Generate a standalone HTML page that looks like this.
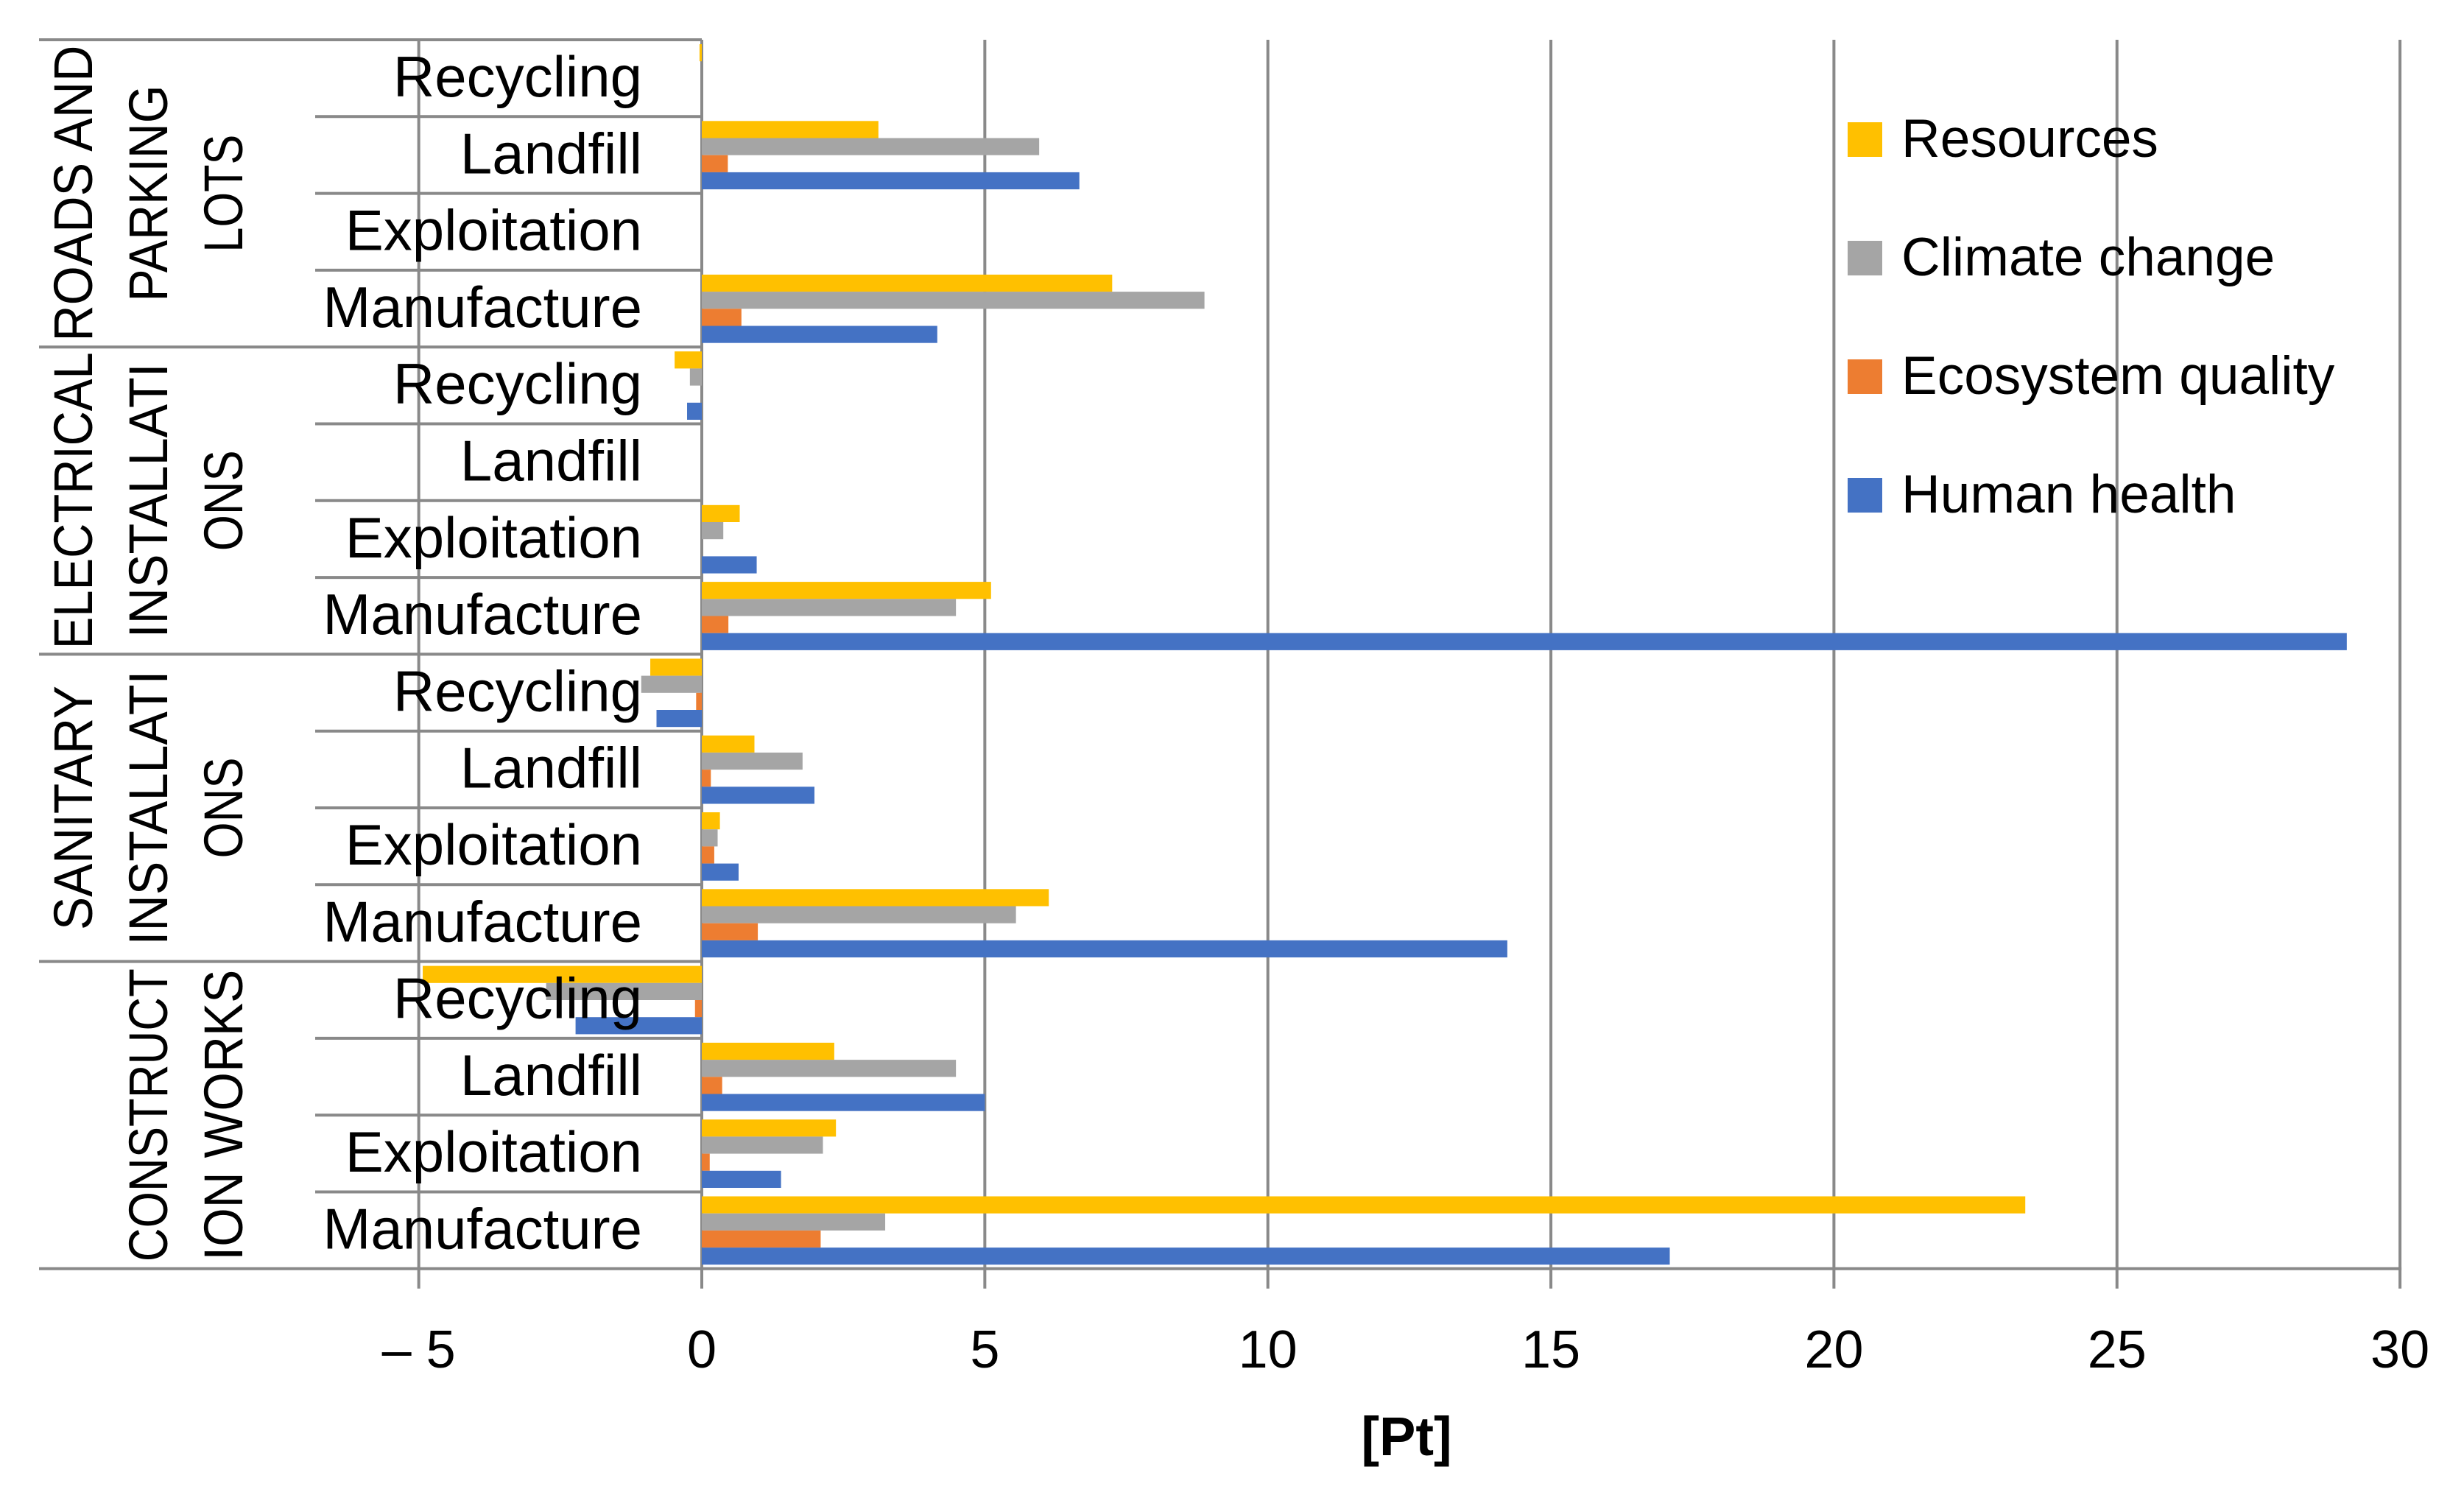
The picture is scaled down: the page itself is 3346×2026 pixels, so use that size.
<!DOCTYPE html>
<html><head><meta charset="utf-8"><style>
html,body{margin:0;padding:0;background:#fff;}
svg{display:block;font-family:"Liberation Sans",sans-serif;}
</style></head><body>
<svg id="chart" width="3346" height="2026" viewBox="0 0 3346 2026" xmlns="http://www.w3.org/2000/svg">
<rect width="3346" height="2026" fill="#fff"/>
<g id="grid"></g><g id="bars"></g><g id="frame"></g><g id="labels"></g>
<text x="1910" y="1976" text-anchor="middle" font-size="74" font-weight="bold">[Pt]</text>
<g id="legend"></g>
</svg>
<script>
const groups = ["ROADS AND PARKING LOTS","ELECTRICAL INSTALLATIONS","SANITARY INSTALLATIONS","CONSTRUCTION WORKS"];
const groupLines = [["ROADS AND","PARKING","LOTS"],["ELECTRICAL","INSTALLATI","ONS"],["SANITARY","INSTALLATI","ONS"],["","CONSTRUCT","ION WORKS"]];
const phases = ["Recycling","Landfill","Exploitation","Manufacture"];
const seriesNames = ["Resources","Climate change","Ecosystem quality","Human health"];
const seriesColors = ["#FFC000","#A5A5A5","#ED7D31","#4472C4"];
// values per group, per phase (rows top-to-bottom)
const resources = [[-0.04,3.12,0,7.25],[-0.48,0,0.67,5.11],[-0.91,0.93,0.32,6.13],[-4.93,2.34,2.37,23.38]];
const climate = [[0,5.96,0,8.88],[-0.21,0,0.38,4.49],[-1.07,1.78,0.28,5.55],[-2.75,4.49,2.14,3.24]];
const ecosystem = [[0,0.46,0,0.70],[0,0,0,0.47],[-0.10,0.16,0.22,0.99],[-0.12,0.36,0.14,2.10]];
const human = [[0,6.67,0,4.16],[-0.26,0,0.97,29.06],[-0.80,1.99,0.65,14.23],[-2.23,5.0,1.40,17.1]];
const ticks = [-5,0,5,10,15,20,25,30];
const tickLabels = ["\u2013 5","0","5","10","15","20","25","30"];

const NS="http://www.w3.org/2000/svg";
const X0=953, PXU=76.87, TOP=54, ROWH=104.3, BOTTOM=TOP+16*ROWH;
const x = v => X0 + v*PXU;
const rowTop = i => TOP + i*ROWH;
function mk(tag, attrs, parent){const e=document.createElementNS(NS,tag);for(const k in attrs)e.setAttribute(k,attrs[k]);parent.appendChild(e);return e;}
const grid=document.getElementById('grid'), bars=document.getElementById('bars'), frame=document.getElementById('frame'), labels=document.getElementById('labels'), legend=document.getElementById('legend');
const GC="#898989", GW=4;
const labelLen = {"ROADS AND":402,"PARKING":294,"LOTS":160,"ELECTRICAL":403,"INSTALLATI":373,"ONS":137,"SANITARY":332,"CONSTRUCT":398,"ION WORKS":395};
ticks.forEach((t,i)=>{
  const l=mk('line',{x1:x(t),x2:x(t),y1:TOP,y2:BOTTOM+27,stroke:GC,'stroke-width':GW},grid);
  
  
  const tx=mk('text',{x:x(t),y:1857,'text-anchor':'middle','font-size':72},labels);
  tx.textContent=tickLabels[i];
  
  
});
const all=[resources,climate,ecosystem,human];
const BH=23.2, BOFF=6;
for(let g=0;g<4;g++){for(let p=0;p<4;p++){
  const r=g*4+p, top=rowTop(r);
  for(let s=0;s<4;s++){
    const v=all[s][g][p]; if(v===0) continue;
    const xa=Math.min(x(0),x(v)), w=Math.abs(x(v)-x(0));
    const b=mk('rect',{x:xa,y:top+BOFF+s*BH,width:w,height:BH,fill:seriesColors[s]},bars);
    
    
  }
  const t=mk('text',{x:872,y:top+77,'text-anchor':'end','font-size':78},labels);
  t.textContent=phases[p];
  
  
  if(p>0){const l=mk('line',{x1:428,x2:x(0),y1:top,y2:top,stroke:GC,'stroke-width':GW},frame);
    
    }
}
  const gt=rowTop(g*4), gc=gt+2*ROWH;
  const gl=mk('line',{x1:53,x2:x(0),y1:gt,y2:gt,stroke:GC,'stroke-width':GW},frame);
  
  
  const cols=[98,200,302];
  groupLines[g].forEach((txt,k)=>{ if(!txt) return;
    const t=mk('text',{x:0,y:0,'text-anchor':'middle','font-size':74,textLength:labelLen[txt],lengthAdjust:'spacingAndGlyphs',transform:`translate(${cols[k]+27},${gc}) rotate(-90)`},labels);
    t.textContent=txt;
    
    
  });
}
const bl=mk('line',{x1:53,x2:x(30)+2,y1:BOTTOM,y2:BOTTOM,stroke:GC,'stroke-width':GW},frame);


const ly=[166,327,488,649];
seriesNames.forEach((n,i)=>{
  const r=mk('rect',{x:2509,y:ly[i],width:47,height:47,fill:seriesColors[i]},legend);
  
  
  const t=mk('text',{x:2582,y:ly[i]+47,'font-size':73},legend);
  t.textContent=n;
  
  
});
</script>
</body></html>
